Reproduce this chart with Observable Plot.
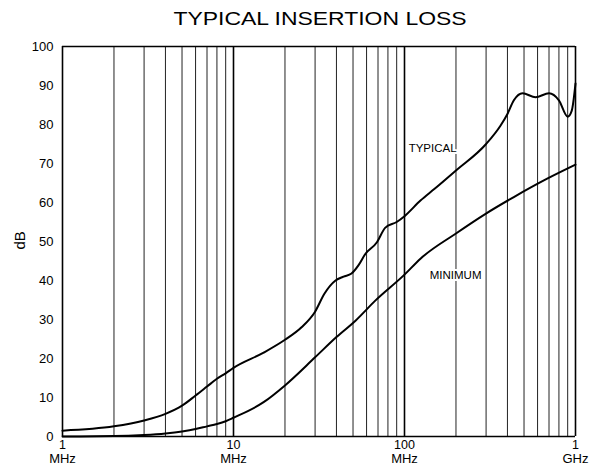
<!DOCTYPE html>
<html>
<head>
<meta charset="utf-8">
<script src="https://cdn.jsdelivr.net/npm/d3@7"></script>
<script src="https://cdn.jsdelivr.net/npm/@observablehq/plot@0.6"></script>
<style>
  html, body { margin: 0; padding: 0; background: #fff; }
  body { width: 596px; height: 466px; font-family: Arial, "Liberation Sans", sans-serif; }
  #title { height: 36px; width: 596px; position: relative; }
  #title span { position: absolute; left: 320px; top: 10px; line-height: 1; transform: translateX(-50%) scaleX(1.24); font-size: 18.5px; white-space: nowrap; color: #000; }
</style>
</head>
<body>
<div id="title"><span>TYPICAL INSERTION LOSS</span></div>
<div id="chart"></div>
<script>
// Frequency (MHz) and insertion loss (dB)
const typicalFreq = [1, 2, 3, 4, 5, 6, 7, 8, 9, 10, 15, 20, 25, 30, 34, 39.5, 44, 49, 54, 59, 69, 77, 90, 100, 124, 150, 200, 300, 364, 400, 436, 490, 584, 700, 800, 900, 950, 1000];
const typicalDb   = [1.5, 2.6, 4.1, 5.8, 7.9, 10.5, 12.8, 14.8, 16.2, 17.6, 21.5, 24.8, 28.0, 32.0, 36.6, 40.0, 41.0, 41.8, 44.0, 46.8, 49.8, 53.5, 55.0, 56.5, 60.5, 63.5, 68.2, 75.0, 79.7, 82.7, 86.2, 88.0, 87.0, 88.0, 86.2, 82.0, 83.5, 90.5];

const minimumFreq = [1, 2, 3, 4, 5, 6, 7, 8, 9, 10, 15, 20, 30, 40, 51.7, 67.7, 100, 124, 199, 298, 436, 683, 1000];
const minimumDb   = [0, 0.1, 0.4, 0.8, 1.3, 1.9, 2.6, 3.2, 3.9, 4.8, 8.8, 13.1, 20.3, 25.5, 29.7, 34.9, 41.5, 45.6, 52.0, 57.1, 61.4, 66.1, 69.7];

const xTicks = [1, 10, 100, 1000];
const xTickNumbers = ["1", "10", "100", "1"];
const xTickUnits = ["MHz", "MHz", "MHz", "GHz"];
const yTicks = [0, 10, 20, 30, 40, 50, 60, 70, 80, 90, 100];
const yLabel = "dB";

const minorGrid = [2, 3, 4, 5, 6, 7, 8, 9, 20, 30, 40, 50, 60, 70, 80, 90, 200, 300, 400, 500, 600, 700, 800, 900];
const majorGrid = [1, 10, 100, 1000];

const seriesLabels = [
  {name: "TYPICAL", f: 146, db: 73.8},
  {name: "MINIMUM", f: 199, db: 41.3}
];

const typical = typicalFreq.map((f, i) => ({f, db: typicalDb[i]}));
const minimum = minimumFreq.map((f, i) => ({f, db: minimumDb[i]}));

const chart = Plot.plot({
  width: 596,
  height: 430,
  marginTop: 10,
  marginBottom: 30,
  marginLeft: 62,
  marginRight: 21,
  style: {fontFamily: "Arial, 'Liberation Sans', sans-serif", fontSize: "13px", color: "#000", background: "#fff"},
  x: {type: "log", domain: [1, 1000]},
  y: {domain: [0, 100]},
  marks: [
    Plot.ruleX(minorGrid, {stroke: "#222", strokeWidth: 1}),
    Plot.ruleX(majorGrid, {stroke: "#000", strokeWidth: 1.6}),
    Plot.ruleY([0, 100], {stroke: "#000", strokeWidth: 1.4}),
    Plot.line(minimum, {x: "f", y: "db", curve: "monotone-x", stroke: "#000", strokeWidth: 2}),
    Plot.line(typical, {x: "f", y: "db", curve: "monotone-x", stroke: "#000", strokeWidth: 2}),
    Plot.text(seriesLabels, {x: "f", y: "db", text: "name", fontSize: 11.5, fill: "#000", stroke: "#fff", strokeWidth: 4}),
    Plot.axisX(xTicks, {tickSize: 0, tickPadding: 4, tickFormat: (d) => xTickNumbers[xTicks.indexOf(d)], label: null, fontSize: 12.5}),
    Plot.axisX(xTicks, {tickSize: 0, tickPadding: 17, tickFormat: (d) => xTickUnits[xTicks.indexOf(d)], label: null, fontSize: 13}),
    Plot.axisY(yTicks, {tickSize: 0, tickPadding: 9, label: null, fontSize: 13}),
    Plot.text([yLabel], {frameAnchor: "left", dx: -42, dy: 8, rotate: -90, text: (d) => d, fontSize: 15, fill: "#000"})
  ]
});
document.getElementById("chart").appendChild(chart);
</script>
</body>
</html>
